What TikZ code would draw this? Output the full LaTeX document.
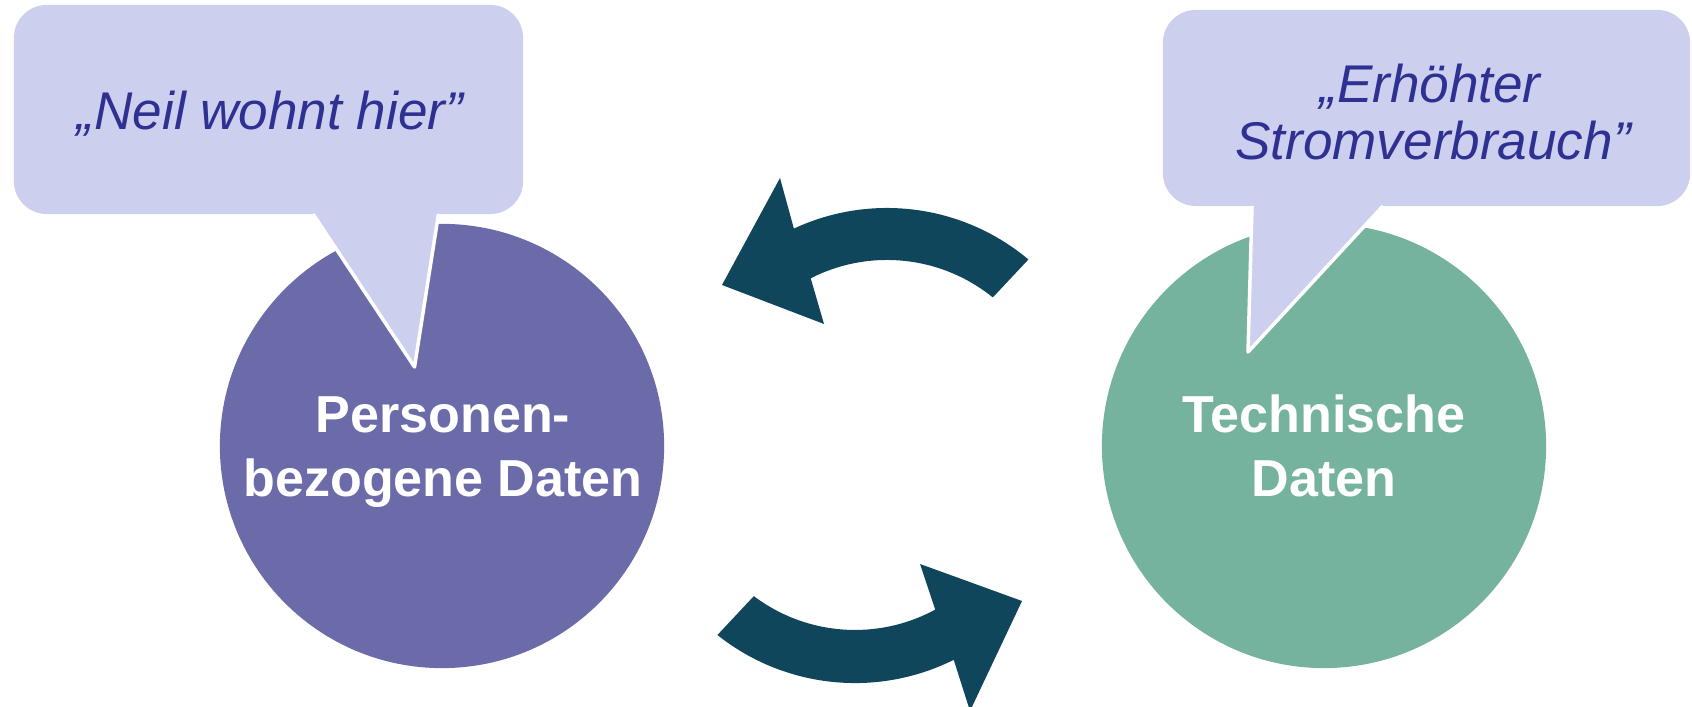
\documentclass[tikz,border=0pt]{standalone}
\usepackage{fontspec}
\setmainfont{Liberation Sans}
\definecolor{bubblefill}{HTML}{CDCFEE}
\definecolor{bubbletext}{HTML}{2E3192}
\definecolor{persfill}{HTML}{6C6BAA}
\definecolor{techfill}{HTML}{75B39E}
\definecolor{arrowfill}{HTML}{10465B}
\begin{document}
\begin{tikzpicture}[x=0.01cm,y=0.01cm,
  datacircle/.style={circle, minimum size=4.44cm, inner sep=0pt, draw=none},
  bubblebox/.style={fill=bubblefill, rounded corners=0.33cm, inner sep=0pt, draw=none},
  bubbletail/.style={fill=bubblefill, draw=white, line width=1pt, line join=round},
  bubbletxt/.style={font=\itshape\fontsize{15.1}{17}\selectfont, text=bubbletext, inner sep=0pt, anchor=base},
  circletxt/.style={font=\bfseries\fontsize{14.8}{18}\selectfont, text=white, inner sep=0pt, anchor=base},
  bigarrow/.style={fill=arrowfill}]
\useasboundingbox (0,0) rectangle (1692,707);

% circles
\node[datacircle, fill=persfill] (pers) at (442,261) {};
\node[datacircle, fill=techfill] (tech) at (1324,261) {};

% left speech bubble
\node[bubblebox, minimum width=5.09cm, minimum height=2.09cm] (bubleft) at (268.5,597.5) {};
\path[bubbletail] (313,493) -- (414.5,340) -- (438.5,493);
\node[bubbletxt] (tneil) at (270,577) {„Neil wohnt hier”};

% right speech bubble
\node[bubblebox, minimum width=5.27cm, minimum height=1.96cm] (bubright) at (1426.5,599) {};
\path[bubbletail] (1252,501) -- (1248,355) -- (1383,501);
\node[bubbletxt] (terh) at (1430,604) {„Erhöhter};
\node[bubbletxt] (tstrom) at (1433,547) {Stromverbrauch”};

% circle labels
\node[circletxt] (pa) at (443,274) {Personen-};
\node[circletxt] (pb) at (443,210) {bezogene Daten};
\node[circletxt] (qa) at (1324,274) {Technische};
\node[circletxt] (qb) at (1324,210) {Daten};

% curved arrows
\fill[bigarrow] (1028.4,447.5) arc[start angle=50, end angle=115, radius=2.2cm]
  -- (780,529) -- (722,422) -- (824,383) -- (810.7,428.7)
  arc[start angle=117, end angle=51, radius=1.68cm] -- cycle;
\fill[bigarrow] (717.4,72) arc[start angle=231.5, end angle=296.5, radius=2.21cm]
  -- (970,-4) -- (1022,106) -- (920,143) -- (935.2,97.4)
  arc[start angle=298.5, end angle=233, radius=1.68cm] -- cycle;
\end{tikzpicture}
\end{document}
